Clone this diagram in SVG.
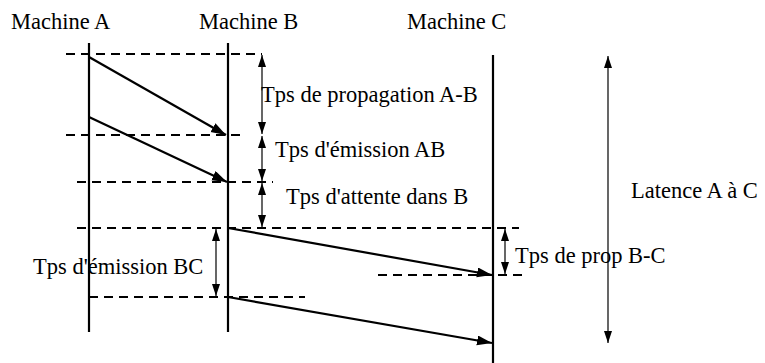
<svg xmlns="http://www.w3.org/2000/svg" width="765" height="363" viewBox="0 0 765 363">
  <defs>
    <marker id="headBig" markerUnits="userSpaceOnUse" markerWidth="16" markerHeight="12" refX="15" refY="5" orient="auto">
      <path d="M0,0 L15,5 L0,10 Z" fill="#000"/>
    </marker>
    <marker id="headSmall" markerUnits="userSpaceOnUse" markerWidth="13" markerHeight="10" refX="12" refY="4" orient="auto-start-reverse">
      <path d="M0,0 L12,4 L0,8 Z" fill="#000"/>
    </marker>
    <style>
      text { font-family: "Liberation Serif", "DejaVu Serif", "Times New Roman", serif; font-size: 22.5px; fill: #000; }
      .life { stroke: #000; stroke-width: 2.2; fill: none; }
      .dash { stroke: #000; stroke-width: 2; stroke-dasharray: 9 6; fill: none; }
      .msg { stroke: #000; stroke-width: 2.2; fill: none; marker-end: url(#headBig); }
      .span { stroke: #000; stroke-width: 1.2; fill: none; marker-start: url(#headSmall); marker-end: url(#headSmall); }
    </style>
  </defs>

  <!-- machines with their time lines -->
  <g id="machineA">
    <text x="11" y="29">Machine A</text>
    <line class="life" x1="89" y1="43" x2="89" y2="332"/>
  </g>
  <g id="machineB">
    <text x="199" y="29">Machine B</text>
    <line class="life" x1="228" y1="43" x2="228" y2="332"/>
  </g>
  <g id="machineC">
    <text x="407" y="29">Machine C</text>
    <line class="life" x1="493" y1="55" x2="493" y2="363"/>
  </g>

  <!-- time marks -->
  <g id="marks">
    <line class="dash" x1="66" y1="54" x2="262" y2="54"/>
    <line class="dash" x1="66" y1="135" x2="241" y2="135"/>
    <line class="dash" x1="77" y1="182" x2="273" y2="182"/>
    <line class="dash" x1="77" y1="228" x2="519" y2="228"/>
    <line class="dash" x1="378" y1="275" x2="527" y2="275"/>
    <line class="dash" x1="89" y1="297" x2="305" y2="297"/>
  </g>

  <!-- messages -->
  <g id="connectors">
    <line class="msg" x1="89" y1="57" x2="226" y2="135"/>
    <line class="msg" x1="89" y1="117" x2="227" y2="182"/>
    <line class="msg" x1="228" y1="228" x2="492" y2="275"/>
    <line class="msg" x1="228" y1="297" x2="492" y2="343"/>
  </g>

  <!-- durations -->
  <g id="propAB">
    <line class="span" x1="262" y1="55" x2="262" y2="134"/>
    <text x="261" y="102">Tps de propagation A-B</text>
  </g>
  <g id="emissionAB">
    <line class="span" x1="262" y1="136" x2="262" y2="181"/>
    <text x="275" y="157">Tps d'émission AB</text>
  </g>
  <g id="attenteB">
    <line class="span" x1="262" y1="183" x2="262" y2="227"/>
    <text x="286" y="204">Tps d'attente dans B</text>
  </g>
  <g id="emissionBC">
    <line class="span" x1="216" y1="229" x2="216" y2="296"/>
    <text x="33" y="274">Tps d'émission BC</text>
  </g>
  <g id="propBC">
    <line class="span" x1="505" y1="229" x2="505" y2="274"/>
    <text x="515" y="263">Tps de prop B-C</text>
  </g>
  <g id="latence">
    <line class="span" x1="608" y1="56" x2="608" y2="343"/>
    <text x="631" y="198">Latence A à C</text>
  </g>
</svg>
